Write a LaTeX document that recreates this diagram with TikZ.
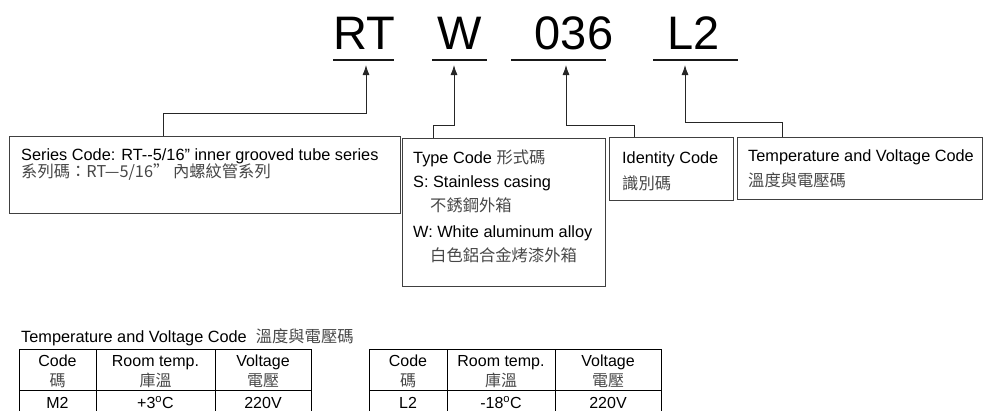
\documentclass[tikz,border=0pt]{standalone}
\usepackage{fontspec}
\setmainfont{Liberation Sans}
\newfontfamily\cjkf{Noto Sans CJK TC}
\newcommand{\cj}[1]{{\cjkf\color{black!72}#1}}
\usetikzlibrary{arrows.meta}
\begin{document}
\begin{tikzpicture}[x=1pt,y=-1pt,
  box/.style={draw=black!75, line width=0.9pt, inner sep=0pt, anchor=north west},
  txt/.style={anchor=base west, inner sep=0pt, font=\fontsize{16.3}{19}\selectfont},
  ctxt/.style={anchor=base, inner sep=0pt, font=\fontsize{16}{19}\selectfont},
  conn/.style={draw=black!85, line width=0.9pt},
  arr/.style={conn, -{Latex[length=10pt,width=7pt]}},
  big/.style={anchor=base, inner sep=0pt, font=\fontsize{47}{52}\selectfont},
  uline/.style={draw=black!90, line width=2.2pt},
  tline/.style={draw=black, line width=0.9pt}]
\useasboundingbox (0,0) rectangle (983,410);
\clip (0,0) rectangle (983,410);

% code letters
\node[big] (rt) at (364,49) {RT};
\node[big] (w) at (460,49) {W};
\node[big] (id) at (574,49) {036};
\node[big] (tv) at (694,49) {L2};
\draw[uline] (333,60) -- (394,60);
\draw[uline] (432,60) -- (487,60);
\draw[uline] (511,60) -- (606,60);
\draw[uline] (653,60) -- (738,60);

% boxes
\node[box, minimum width=391pt, minimum height=77pt] (series) at (9,136) {};
\node[box, minimum width=203pt, minimum height=148pt] (type) at (402,138) {};
\node[box, minimum width=124pt, minimum height=63pt] (ident) at (609,137) {};
\node[box, minimum width=245pt, minimum height=62pt] (temp) at (737,137) {};

% connectors
\coordinate (rtTip) at (366,65);  \coordinate (rtBend) at (366,113);
\coordinate (wTip) at (454,65);   \coordinate (wBend) at (454,125);
\coordinate (idTip) at (566,65);  \coordinate (idBend) at (566,125);
\coordinate (tvTip) at (685,65);  \coordinate (tvBend) at (685,122);
\draw[arr] ([xshift=154pt]series.north west) |- (rtBend) -- (rtTip);
\draw[arr] ([xshift=31pt]type.north west) |- (wBend) -- (wTip);
\draw[arr] ([xshift=25pt]ident.north west) |- (idBend) -- (idTip);
\draw[arr] ([xshift=45pt]temp.north west) |- (tvBend) -- (tvTip);

% box texts
\node[txt] (s1) at (21,160) {Series Code: RT-\kern0pt-5/16” inner grooved tube series};
\node[txt] (s2) at (21,177) {\cj{系列碼：RT—5/16” 內螺紋管系列}};

\node[txt] (t1) at (413,163) {Type Code \cj{形式碼}};
\node[txt] (t2) at (413,187) {S: Stainless casing};
\node[txt] (t3) at (430,211) {\cj{不銹鋼外箱}};
\node[txt] (t4) at (413,237) {W: White aluminum alloy};
\node[txt] (t5) at (430,261) {\cj{白色鋁合金烤漆外箱}};

\node[txt] (i1) at (622,163.5) {Identity Code};
\node[txt] (i2) at (622,189) {\cj{識別碼}};

\node[txt] (v1) at (748,161.5) {Temperature and Voltage Code};
\node[txt] (v2) at (748,186) {\cj{溫度與電壓碼}};

% table title
\node[txt] (title) at (21,342.5) {Temperature and Voltage Code\hspace{9pt}\cj{溫度與電壓碼}};

% table 1
\draw[tline] (19,349) rectangle (311,430);
\draw[tline] (96,349) -- (96,430);
\draw[tline] (215,349) -- (215,430);
\draw[tline] (19,390) -- (311,390);
\node[ctxt] (a11) at (57.5,366) {Code};
\node[ctxt] (a12) at (155.5,366) {Room temp.};
\node[ctxt] (a13) at (263,366) {Voltage};
\node[ctxt] (a21) at (57.5,386) {\cj{碼}};
\node[ctxt] (a22) at (155.5,386) {\cj{庫溫}};
\node[ctxt] (a23) at (263,386) {\cj{電壓}};
\node[ctxt] (a31) at (57.5,408.5) {M2};
\node[ctxt] (a32) at (155.5,408.5) {+3\textsuperscript{o}C};
\node[ctxt] (a33) at (263,408.5) {220V};

% table 2
\draw[tline] (369,349) rectangle (661,430);
\draw[tline] (447,349) -- (447,430);
\draw[tline] (555,349) -- (555,430);
\draw[tline] (369,390) -- (661,390);
\node[ctxt] (b11) at (408,366) {Code};
\node[ctxt] (b12) at (501,366) {Room temp.};
\node[ctxt] (b13) at (608,366) {Voltage};
\node[ctxt] (b21) at (408,386) {\cj{碼}};
\node[ctxt] (b22) at (501,386) {\cj{庫溫}};
\node[ctxt] (b23) at (608,386) {\cj{電壓}};
\node[ctxt] (b31) at (408,408.5) {L2};
\node[ctxt] (b32) at (501,408.5) {-18\textsuperscript{o}C};
\node[ctxt] (b33) at (608,408.5) {220V};
\end{tikzpicture}
\end{document}
